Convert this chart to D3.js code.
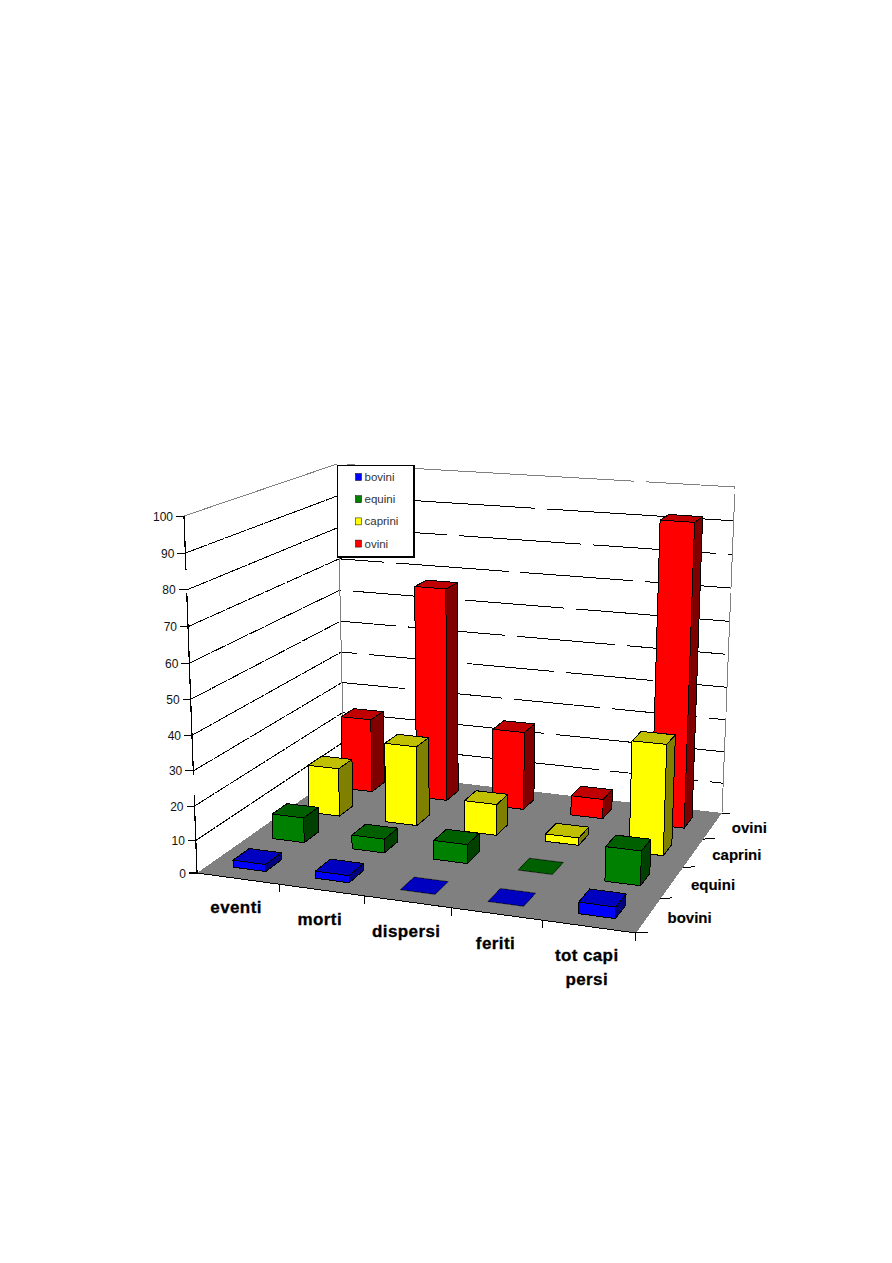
<!DOCTYPE html>
<html><head><meta charset="utf-8">
<script src="https://cdnjs.cloudflare.com/ajax/libs/d3/7.8.5/d3.min.js"></script>
<style>html,body{margin:0;padding:0;background:#fff}svg{display:block}text{font-family:"Liberation Sans",Arial,sans-serif}</style>
</head><body><svg id="c" width="892" height="1263"></svg>
<script>
const categories=["eventi","morti","dispersi","feriti","tot capi persi"];
const seriesNames=["bovini","equini","caprini","ovini"];
const bovini=[2.3,2.3,0,0,3.5];
const equini=[8,4.5,6,0,10.5];
const caprini=[15.5,25,10,2.5,33.5];
const ovini=[24,67,25,6.5,92];
const seriesValues=[bovini,equini,caprini,ovini];
const valueTicks=[0,10,20,30,40,50,60,70,80,90,100];
const faceColors=[
 {front:"#0000ff",top:"#0000c0",side:"#000080"},
 {front:"#008000",top:"#006000",side:"#004000"},
 {front:"#ffff00",top:"#c0c000",side:"#808000"},
 {front:"#ff0000",top:"#c00000",side:"#800000"}];
// where the scanned back-wall grid lines break: [x of a break, spacing of breaks]
const backGaps={100:[635,300],90:[535,300],80:[582,135],70:[509,125],60:[565,112],50:[506,110],40:[555,99],30:[503,98],20:[545,100],10:[500,100]};

// perspective frame: corners of the floor and of the top plane
const floorQuad=[[197,873],[636,933],[722,813],[344,770]];
const topQuad=[[184,516],[647,548],[735,487],[337,464]];
function homography(q){
 const [[x0,y0],[x1,y1],[x2,y2],[x3,y3]]=q;
 const dx1=x1-x2,dx2=x3-x2,sx=x0-x1+x2-x3,dy1=y1-y2,dy2=y3-y2,sy=y0-y1+y2-y3;
 const det=dx1*dy2-dx2*dy1,g=(sx*dy2-dx2*sy)/det,h=(dx1*sy-sx*dy1)/det;
 const a=x1-x0+g*x1,b=x3-x0+h*x3,d=y1-y0+g*y1,e=y3-y0+h*y3;
 return (s,t)=>{const w=g*s+h*t+1;return [(a*s+b*t+x0)/w,(d*s+e*t+y0)/w];};
}
const hF=homography(floorQuad),hT=homography(topQuad);
const yScale=d3.scalePow().exponent(1.04).domain([0,100]).range([0,1]);
const xBand=d3.scaleBand().domain(categories).range([-0.002,1.0]).paddingInner(0.6).paddingOuter(0.3);
const zBand=d3.scaleBand().domain(seriesNames).range([0,1]).paddingInner(0.6).paddingOuter(0.3);
function P(s,t,val){const a=hF(s,t),b=hT(s,t),k=yScale(val);return [a[0]+(b[0]-a[0])*k,a[1]+(b[1]-a[1])*k];}
const path=pts=>"M"+pts.map(p=>p.join(",")).join("L")+"Z";

const svg=d3.select("#c");
const crisp="crispEdges";
const line=(g,a,b,col,w,dash,off)=>g.append("line").attr("x1",a[0]).attr("y1",a[1]).attr("x2",b[0]).attr("y2",b[1]).attr("stroke",col).attr("stroke-width",w||1).attr("stroke-dasharray",dash||null).attr("stroke-dashoffset",off||0).attr("shape-rendering",crisp);

// walls
const walls=svg.append("g");
valueTicks.forEach(v=>{
 if(v===0)return;
 const col=v===100?"#808080":"#000";
 line(walls,P(0,0,v),P(0,1,v),col,1,v===100?null:"23 1 17 1");
 const a=P(0,1,v),gap=backGaps[v],gl=12,per=gap[1];
 const off=((per-gl)-(gap[0]-a[0])+per*20)%per;
 line(walls,a,P(1,1,v),col,1,(per-gl)+" "+gl,off);
});
line(walls,P(0,1,0),P(0,1,100),"#808080");
line(walls,P(1,1,0),P(1,1,100),"#808080",1,"95 5 120 4",0);

// floor
svg.append("path").attr("d",path([P(0,0,0),P(1,0,0),P(1,1,0),P(0,1,0)])).attr("fill","#808080").attr("shape-rendering",crisp);
line(svg,P(0,0,0),P(1,0,0),"#000");

// value axis, with ticks and labels
const ax=svg.append("g");
line(ax,P(0,0,0),P(0,0,100),"#000",1.2,"78 20 182 23 60");
valueTicks.forEach(v=>{
 const p=P(0,0,v);
 line(ax,[p[0]-8,p[1]],p,"#000",v===0?2:1);
 ax.append("text").attr("x",p[0]-11).attr("y",p[1]+4.5).attr("text-anchor","end").attr("font-size",12).attr("fill","#111").text(v);
});
// floor ticks
categories.forEach((c,i)=>{
 const s=(i+1)/categories.length;
 const p=P(s,0,0);
 line(ax,p,[p[0]+(i==4?-1:0),p[1]+8],"#000");
});
seriesNames.forEach((c,i)=>{
 const t=i/seriesNames.length;
 const p=P(1,t,0);
 line(ax,p,[p[0]+12,p[1]-1],"#000");
});
line(ax,P(1,1,0),[P(1,1,0)[0]+8,P(1,1,0)[1]],"#000");

// bars
const bars=svg.append("g").attr("stroke","#000").attr("stroke-width",1).attr("stroke-linejoin","round").attr("shape-rendering",crisp);
for(let j=seriesNames.length-1;j>=0;j--){
 categories.forEach((c,i)=>{
  const v=seriesValues[j][i];
  const s0=xBand(c),s1=s0+xBand.bandwidth(),t0=zBand(seriesNames[j]),t1=t0+zBand.bandwidth();
  const col=faceColors[j];
  if(v>0){
   bars.append("path").attr("d",path([P(s1,t0,0),P(s1,t1,0),P(s1,t1,v),P(s1,t0,v)])).attr("fill",col.side);
   bars.append("path").attr("d",path([P(s0,t0,0),P(s1,t0,0),P(s1,t0,v),P(s0,t0,v)])).attr("fill",col.front);
  }
  bars.append("path").attr("d",path([P(s0,t0,v),P(s1,t0,v),P(s1,t1,v),P(s0,t1,v)])).attr("fill",col.top).attr("stroke-width",v>0?1:0.6);
 });
}

// category labels
const catLab=svg.append("g").attr("font-weight","bold").attr("font-size",17).attr("letter-spacing",0.4).attr("fill","#000").attr("text-anchor","middle").attr("stroke","#000").attr("stroke-width",0.3);
categories.forEach((c,i)=>{
 const s=xBand(c)+xBand.bandwidth()/2,p=P(s,0,0);
 const dy=[35,35,35,35,34][i];
 if(c.includes(" ")){
  const w=c.split(" ");
  catLab.append("text").attr("x",p[0]-2).attr("y",p[1]+dy).text(w.slice(0,2).join(" "));
  catLab.append("text").attr("x",p[0]-2).attr("y",p[1]+dy+24).text(w[2]);
 } else catLab.append("text").attr("x",p[0]-1).attr("y",p[1]+dy).text(c);
});
// series labels
const serLab=svg.append("g").attr("font-weight","bold").attr("font-size",15).attr("fill","#000").attr("stroke","#000").attr("stroke-width",0.15);
seriesNames.forEach(n=>{
 const t=zBand(n)+zBand.bandwidth()/2,p=P(1,t,0);
 serLab.append("text").attr("x",p[0]+19).attr("y",p[1]+7).text(n);
});

// legend
const lg=svg.append("g");
lg.append("rect").attr("x",337.5).attr("y",465.5).attr("width",76).attr("height",91).attr("fill","#fff").attr("stroke","#000").attr("shape-rendering",crisp);
lg.append("path").attr("d","M337,557.5H414.5V465").attr("fill","none").attr("stroke","#000").attr("stroke-width",1).attr("shape-rendering",crisp);
seriesNames.forEach((n,i)=>{
 const y=477+i*22.2;
 lg.append("rect").attr("x",355.5).attr("y",y-3.5).attr("width",6).attr("height",7).attr("fill",faceColors[i].front).attr("stroke","#000").attr("stroke-width",0.5);
 lg.append("text").attr("x",364.5).attr("y",y+4).attr("font-size",11.5).attr("fill","#333").text(n);
});
</script></body></html>
